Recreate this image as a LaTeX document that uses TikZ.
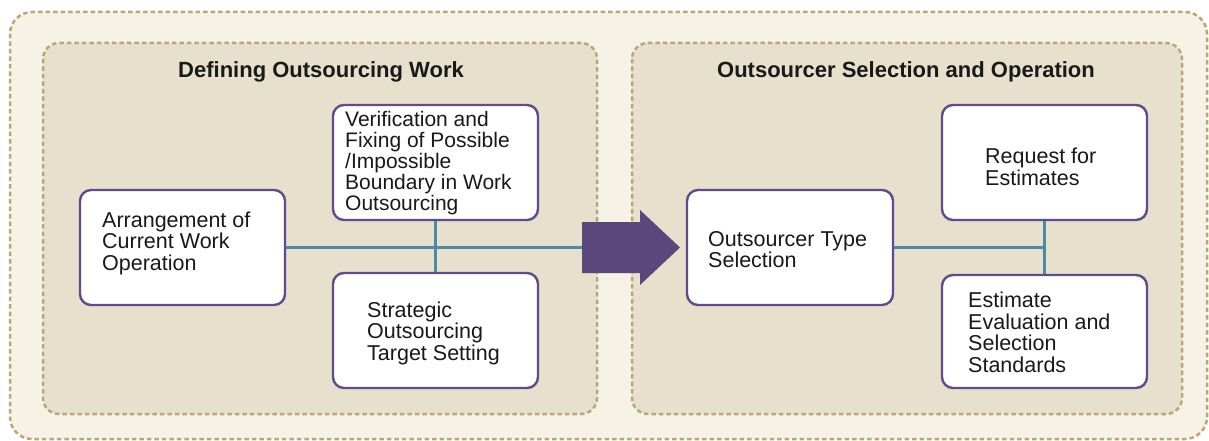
\documentclass[tikz,border=0pt]{standalone}
\usepackage{fontspec}
\setmainfont{Liberation Sans}
\definecolor{outerfill}{RGB}{246,242,229}
\definecolor{panelfill}{RGB}{230,224,205}
\definecolor{dashcol}{RGB}{186,166,118}
\definecolor{boxline}{RGB}{96,76,140}
\definecolor{conncol}{RGB}{74,139,165}
\definecolor{arrowcol}{RGB}{90,72,124}
\definecolor{txtcol}{RGB}{25,25,25}
\tikzset{
  outerpanel/.style={draw=dashcol, fill=outerfill, line width=2.5pt, dash pattern=on 4.5pt off 3pt, rounded corners=22pt},
  innerpanel/.style={draw=dashcol, fill=panelfill, line width=2.5pt, dash pattern=on 4.5pt off 3pt, rounded corners=16pt},
  stepbox/.style={draw=boxline, fill=white, line width=2.4pt, rounded corners=11pt, inner sep=0pt},
  txt/.style={text=txtcol, align=left, inner sep=0pt, font=\fontsize{21.5pt}{21.5pt}\selectfont},
  tighttxt/.style={txt, font=\fontsize{21pt}{21pt}\selectfont},
  ttl/.style={text=txtcol, inner sep=0pt, font=\bfseries\fontsize{22pt}{22pt}\selectfont},
  conn/.style={draw=conncol, line width=3.8pt},
}
\begin{document}
\begin{tikzpicture}[x=1pt,y=-1pt]
\useasboundingbox (0,0) rectangle (1209,441);
% containers
\path[outerpanel] (10,12) rectangle (1207,439);
\path[innerpanel] (43,43) rectangle (597,414);
\path[innerpanel] (632,43) rectangle (1182,414);
% titles
\node[ttl, anchor=base] (t1) at (321,78) {Defining Outsourcing Work};
\node[ttl, anchor=base] (t2) at (906,78) {Outsourcer Selection and Operation};
% boxes
\node[stepbox, minimum width=205pt, minimum height=115pt] (b1) at (182.5,247.5) {};
\node[stepbox, minimum width=205pt, minimum height=115pt] (b2) at (435.5,162.5) {};
\node[stepbox, minimum width=205pt, minimum height=115pt] (b3) at (435.5,330.5) {};
\node[stepbox, minimum width=206pt, minimum height=115pt] (b4) at (790,247.5) {};
\node[stepbox, minimum width=205pt, minimum height=115pt] (b5) at (1044.5,162.5) {};
\node[stepbox, minimum width=205pt, minimum height=113pt] (b6) at (1044.5,331.5) {};
% texts
\node[txt, anchor=west] (x1) at (102,243) {Arrangement of\\Current Work\\Operation};
\node[tighttxt, anchor=west] (x2) at (345,163) {Verification and\\Fixing of Possible\\/Impossible\\Boundary in Work\\Outsourcing};
\node[txt, anchor=west] (x3) at (367,333) {Strategic\\Outsourcing\\Target Setting};
\node[txt, anchor=west] (x4) at (708,249.5) {Outsourcer Type\\Selection};
\node[txt, anchor=west] (x5) at (985,167) {Request for\\Estimates};
\node[txt, anchor=west] (x6) at (968,332.5) {Estimate\\Evaluation and\\Selection\\Standards};
% arrow
\coordinate (atail) at (582,247.5);
\fill[arrowcol] (582,222) -- (640,222) -- (640,210) -- (680,247.5) -- (640,285) -- (640,273) -- (582,273) -- cycle;
% connectors
\draw[conn] (b1.east) -- (atail);
\draw[conn] (b2.south) -- (b3.north);
\draw[conn] (b4.east) -- (b4.east -| b5.south);
\draw[conn] (b5.south) -- (b6.north);
\end{tikzpicture}
\end{document}
